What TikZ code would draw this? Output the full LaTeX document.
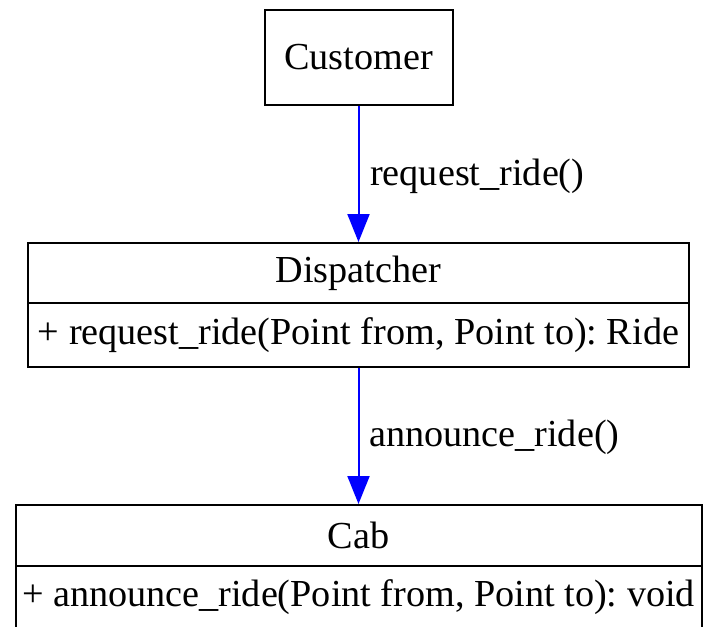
\documentclass[tikz,border=0pt]{standalone}
\usepackage{fontspec}
\setmainfont{Liberation Serif}
\usetikzlibrary{arrows.meta}
\frenchspacing

\begin{document}
\begin{tikzpicture}[x=0.5pt, y=-0.5pt,
    every node/.style={font=\fontsize{19.1pt}{22pt}\selectfont},
    box/.style={draw, line width=1pt, inner sep=0pt},
    call/.style={draw=blue, line width=1pt, -{Triangle[length=14pt, width=11pt, fill=blue]}}]
    \useasboundingbox (0,0) rectangle (705,626);

    \node[box, minimum width=94pt, minimum height=47.5pt] at (358.5, 57.5) (C) {Customer};

    % dispatcher class: name on top, operations below
    \node[box, minimum width=330.5pt, minimum height=30pt] at (358.5, 273) (D) {Dispatcher};
    \node[box, minimum width=330.5pt, minimum height=32pt] at (358.5, 335) (Dops) {+ request\_ride(Point from, Point to): Ride};

    \node[box, minimum width=343pt, minimum height=30.5pt] at (358.5, 535.5) (B) {Cab};
    \node[box, minimum width=343pt, minimum height=31pt] at (358.5, 597) (Bops) {+ announce\_ride(Point from, Point to): void};

    \draw[call] (C) -- node[right, xshift=2pt, yshift=-1pt] {request\_ride()} (D);
    \draw[call] (Dops) -- node[right, xshift=1.5pt, yshift=-0.5pt] {announce\_ride()} (B);
\end{tikzpicture}
\end{document}
